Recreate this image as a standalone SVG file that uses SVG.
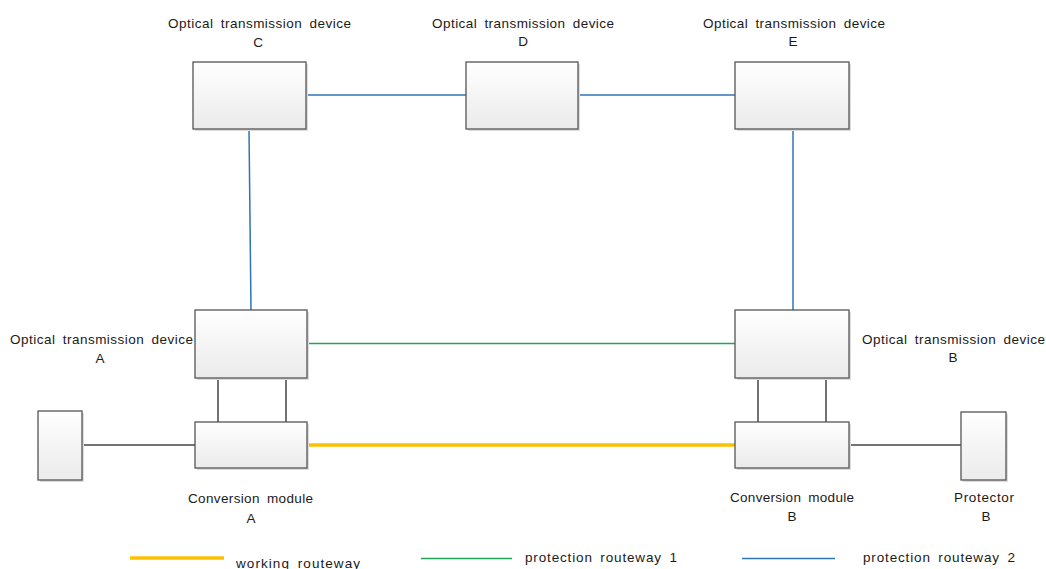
<svg xmlns="http://www.w3.org/2000/svg" width="1046" height="569" viewBox="0 0 1046 569">
<defs>
<linearGradient id="g" x1="0" y1="0" x2="0" y2="1">
<stop offset="0" stop-color="#ffffff"/>
<stop offset="1" stop-color="#ebebeb"/>
</linearGradient>
<style>
.box{fill:url(#g);stroke:#555555;stroke-width:1.3}
.sh{fill:#dcdcdc}
.t{font-family:"Liberation Sans",Arial,sans-serif;font-size:13.5px;fill:#1a1a1a;word-spacing:3px}
.m{text-anchor:middle}
.blue{stroke:#2E75B6;stroke-width:1.5;fill:none}
.green{stroke:#21A556;stroke-width:1.3;fill:none}
.orange{stroke:#FFC000;stroke-width:3.5;fill:none}
.black{stroke:#444444;stroke-width:1.5;fill:none}
</style>
</defs>
<rect width="1046" height="569" fill="#ffffff"/>
<g id="connectors">
<line class="blue" x1="306" y1="95" x2="466" y2="95"/>
<line class="blue" x1="578" y1="95" x2="735" y2="95"/>
<line class="blue" x1="249" y1="129" x2="251" y2="310"/>
<line class="blue" x1="793" y1="129" x2="793" y2="310"/>
<line class="green" x1="307" y1="343.5" x2="735" y2="343.5"/>
<line class="orange" x1="307" y1="445" x2="735" y2="445"/>
<line class="black" x1="218" y1="378" x2="218" y2="422"/>
<line class="black" x1="286" y1="378" x2="286" y2="422"/>
<line class="black" x1="758" y1="378" x2="758" y2="422"/>
<line class="black" x1="826" y1="378" x2="826" y2="422"/>
<line class="black" x1="82" y1="445" x2="195" y2="445"/>
<line class="black" x1="849" y1="445" x2="961" y2="445"/>
</g>
<g id="deviceC">
<rect class="sh" x="195" y="64" width="113" height="67"/>
<rect class="box" x="193" y="62" width="113" height="67"/>
<text class="t" x="168" y="28" textLength="183" lengthAdjust="spacing">Optical transmission device</text>
<text class="t m" x="258" y="47">C</text>
</g>
<g id="deviceD">
<rect class="sh" x="468" y="64" width="112" height="67"/>
<rect class="box" x="466" y="62" width="112" height="67"/>
<text class="t" x="432" y="28" textLength="182" lengthAdjust="spacing">Optical transmission device</text>
<text class="t m" x="523" y="46">D</text>
</g>
<g id="deviceE">
<rect class="sh" x="737" y="64" width="114" height="67"/>
<rect class="box" x="735" y="62" width="114" height="67"/>
<text class="t" x="703" y="28" textLength="182" lengthAdjust="spacing">Optical transmission device</text>
<text class="t m" x="793" y="46">E</text>
</g>
<g id="deviceA">
<rect class="sh" x="197" y="312" width="112" height="68"/>
<rect class="box" x="195" y="310" width="112" height="68"/>
<text class="t" x="10" y="344" textLength="183" lengthAdjust="spacing">Optical transmission device</text>
<text class="t m" x="100" y="363">A</text>
</g>
<g id="deviceB">
<rect class="sh" x="737" y="312" width="114" height="68"/>
<rect class="box" x="735" y="310" width="114" height="68"/>
<text class="t" x="862" y="344" textLength="183" lengthAdjust="spacing">Optical transmission device</text>
<text class="t m" x="953" y="362">B</text>
</g>
<g id="conversionA">
<rect class="sh" x="197" y="424" width="112" height="46"/>
<rect class="box" x="195" y="422" width="112" height="46"/>
<text class="t" x="188" y="503" textLength="125" lengthAdjust="spacing">Conversion module</text>
<text class="t m" x="251" y="523">A</text>
</g>
<g id="conversionB">
<rect class="sh" x="737" y="424" width="114" height="46"/>
<rect class="box" x="735" y="422" width="114" height="46"/>
<text class="t" x="730" y="502" textLength="124" lengthAdjust="spacing">Conversion module</text>
<text class="t m" x="792" y="521">B</text>
</g>
<g id="protectorA">
<rect class="sh" x="40" y="413" width="44" height="69"/>
<rect class="box" x="38" y="411" width="44" height="69"/>
</g>
<g id="protectorB">
<rect class="sh" x="963" y="414" width="45" height="68"/>
<rect class="box" x="961" y="412" width="45" height="68"/>
<text class="t" x="954" y="502" textLength="60" lengthAdjust="spacing">Protector</text>
<text class="t m" x="986" y="521">B</text>
</g>
<g id="legend">
<line class="orange" x1="130" y1="558" x2="224" y2="558"/>
<text class="t" x="236" y="568" textLength="124" lengthAdjust="spacing">working routeway</text>
<line class="green" x1="421" y1="558.5" x2="512" y2="558.5"/>
<text class="t" x="525" y="562" textLength="152" lengthAdjust="spacing">protection routeway 1</text>
<line class="blue" x1="742" y1="558.5" x2="835" y2="558.5"/>
<text class="t" x="863" y="562" textLength="152" lengthAdjust="spacing">protection routeway 2</text>
</g>
</svg>
